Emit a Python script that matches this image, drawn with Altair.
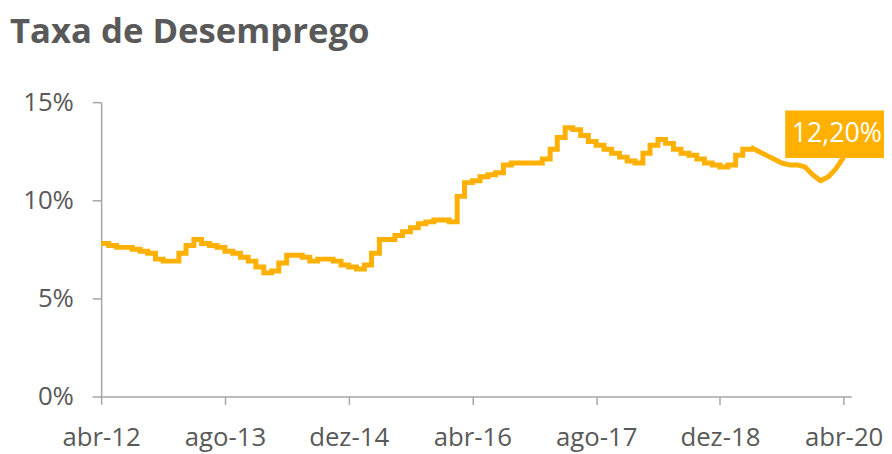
import altair as alt
import pandas as pd

# ---- data ----
chart_title = "Taxa de Desemprego"
first_month = "2012-04-01"
rates = [
    7.8, 7.7, 7.6, 7.6, 7.5, 7.4, 7.3, 7.0, 6.9,
    6.9, 7.3, 7.7, 8.0, 7.8, 7.7, 7.6, 7.4, 7.3, 7.1, 6.9, 6.6,
    6.3, 6.4, 6.8, 7.2, 7.2, 7.1, 6.9, 7.0, 7.0, 6.9, 6.7, 6.6,
    6.5, 6.7, 7.3, 8.0, 8.0, 8.2, 8.4, 8.6, 8.8, 8.9, 9.0, 9.0,
    8.9, 10.2, 10.9, 11.0, 11.2, 11.3, 11.4, 11.8, 11.9, 11.9, 11.9, 11.9,
    12.1, 12.6, 13.2, 13.7, 13.6, 13.3, 13.0, 12.8, 12.6, 12.4, 12.2, 12.0,
    11.9, 12.4, 12.8, 13.1, 12.9, 12.6, 12.4, 12.3, 12.1, 11.9, 11.8, 11.7,
    11.8, 12.3, 12.6, 12.7, 12.5, 12.3, 12.1, 11.9, 11.8, 11.8, 11.7, 11.3,
    11.0, 11.2, 11.6, 12.2,
]
tick_dates = ["2012-04-01", "2013-08-01", "2014-12-01", "2016-04-01",
              "2017-08-01", "2018-12-01", "2020-04-01"]
month_names = ["jan", "fev", "mar", "abr", "mai", "jun",
               "jul", "ago", "set", "out", "nov", "dez"]
y_ticks = [0, 5, 10, 15]
last_label = "12,20%"
step_until_index = 84  # stepped look until here, smooth after
x_domain_end = "2020-05-01"

LINE = "#FFB000"
TEXT = "#595959"
AXIS = "#A6A6A6"
FONT = "Open Sans"


def ms(d):
    return int(pd.Timestamp(d, tz="UTC").timestamp() * 1000)


dates = pd.date_range(first_month, periods=len(rates), freq="MS")
df = pd.DataFrame({
    "date": dates.strftime("%Y-%m-%d"),
    "rate": rates,
    "idx": list(range(len(rates))),
})

names_js = "[" + ",".join("'%s'" % m for m in month_names) + "]"

x_enc = alt.X(
    "date:T",
    scale=alt.Scale(type="utc", domain=[ms(first_month), ms(x_domain_end)], nice=False),
    axis=alt.Axis(
        values=[ms(d) for d in tick_dates],
        labelExpr=names_js + "[utcmonth(datum.value)] + '-' + utcFormat(datum.value, '%y')",
        title=None, grid=False, domainColor=AXIS, tickColor=AXIS, tickSize=8,
        labelFont=FONT, labelFontSize=26, labelColor=TEXT, labelPadding=20,
        labelFlush=False, labelOverlap=False, domainWidth=1.5, tickWidth=1.5,
    ),
)
y_enc = alt.Y(
    "rate:Q",
    scale=alt.Scale(domain=[0, 15], nice=False),
    axis=alt.Axis(
        values=y_ticks, labelExpr="datum.value + '%'",
        title=None, grid=False, domainColor=AXIS, tickColor=AXIS, tickSize=9,
        labelFont=FONT, labelFontSize=26, labelColor=TEXT, labelPadding=19,
        domainWidth=1.5, tickWidth=1.5,
    ),
)

base = alt.Chart(df)

stepped = base.transform_filter(
    alt.datum.idx <= step_until_index
).mark_line(color=LINE, strokeWidth=5, interpolate="step-after").encode(x=x_enc, y=y_enc)

smooth = base.transform_filter(
    alt.datum.idx >= step_until_index
).mark_line(color=LINE, strokeWidth=5, strokeJoin="round").encode(x=x_enc, y=y_enc)

last = base.transform_filter(alt.datum.idx == len(rates) - 1)

box = last.mark_rule(
    color=LINE, strokeWidth=48, strokeCap="butt",
    xOffset=-59, x2Offset=45, yOffset=-23, y2Offset=-23,
).encode(x=x_enc, x2="date:T", y=y_enc)

label = last.mark_text(
    color="white", font=FONT, fontSize=27, align="center", baseline="middle",
    dx=-7, dy=-23,
).encode(x=x_enc, y=y_enc, text=alt.value(last_label))

chart = alt.layer(stepped, smooth, box, label).properties(
    width=757,
    height=297,
    padding={"left": 94, "top": 93, "right": 33, "bottom": 56},
    autosize=alt.AutoSizeParams(type="none"),
    background="white",
    title=alt.TitleParams(
        chart_title, anchor="start", frame="group", font=FONT, fontSize=35,
        fontWeight="bold", color=TEXT, dx=-92, offset=12, baseline="alphabetic",
    ),
).configure_view(strokeWidth=0)

chart.save("out.html", embed_options={"renderer": "svg", "actions": False})
